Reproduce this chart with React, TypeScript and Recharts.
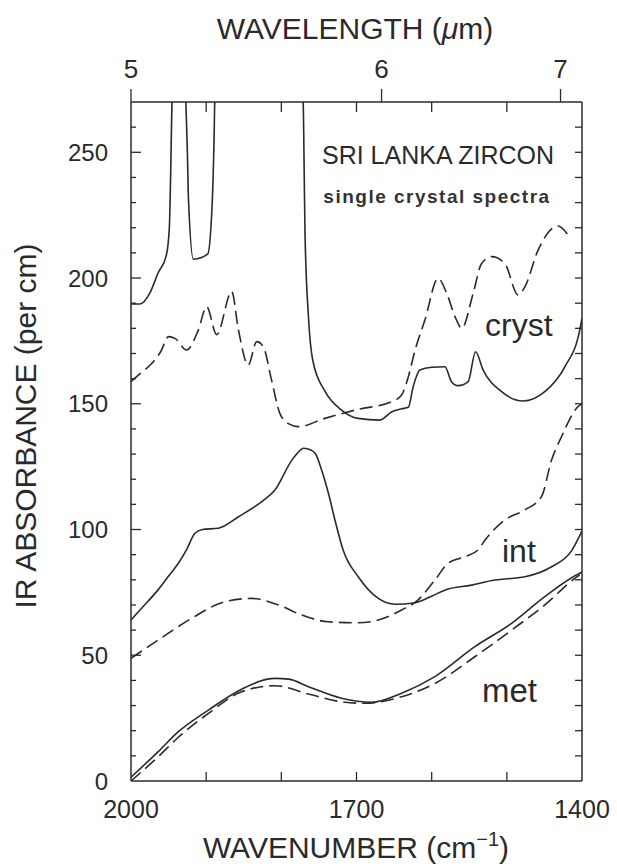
import React from 'react';
import { LineChart, Line, XAxis, YAxis } from 'recharts';

// wavenumber (cm-1), absorbance (per cm)
const crystSolid: number[][] = [
  [2000, 189.7], [1988, 189.7], [1975, 194], [1964, 202], [1953, 209], [1949, 220],
  [1947, 245], [1945.5, 270], [1936, 320], [1927, 270], [1925, 250], [1923.5, 231],
  [1917, 207.5], [1898, 209.5], [1892, 229.7], [1889.5, 255], [1888.5, 270], [1830, 330],
  [1771, 270], [1769.5, 240], [1768.5, 218], [1764, 185], [1758, 167], [1742, 155],
  [1720, 147.5], [1698, 144.2], [1669, 143.5], [1653, 146.8], [1640, 148], [1631, 148.6],
  [1624.6, 156.8], [1615.7, 163.4], [1600, 164.5], [1582.4, 164.7], [1573.6, 158.8],
  [1564.8, 157.2], [1551.4, 158.8], [1541.6, 170.7], [1531.5, 163.4], [1507, 154.8],
  [1478.3, 151.1], [1449.5, 154.8], [1422.9, 164.7], [1403, 179.3], [1400, 184],
];
const crystDashed: number[][] = [
  [2000, 158.8], [1988, 162], [1972.5, 166], [1960, 171], [1950, 176.7], [1941.5, 176],
  [1926, 171.4], [1910.5, 179.3], [1899.4, 188.6], [1886, 177.5], [1866, 194.6],
  [1857, 179.3], [1844, 165.4], [1832.8, 174.7], [1824, 172.7], [1813, 159.4],
  [1802, 146.2], [1790, 142], [1777.5, 140.9], [1742, 144.2], [1697.7, 147.8],
  [1653.3, 150.8], [1640, 153.5], [1631, 160.8], [1622, 171.4], [1609, 183.3],
  [1591.4, 199.9], [1580, 193.9], [1568, 184], [1560, 180], [1544.8, 193.9],
  [1533.6, 205.8], [1520, 208.5], [1502.7, 205.8], [1484.9, 193.2], [1476, 196.5],
  [1458.4, 211.1], [1431.8, 220.7], [1418.5, 217.1],
];
const intSolid: number[][] = [
  [2000, 64], [1985, 69], [1964, 76], [1950, 81.5], [1937, 86.6], [1926, 92], [1915, 98.5],
  [1905, 100], [1884, 100.5], [1857, 105.1], [1826, 111.1], [1808.5, 115.7], [1786, 127.6],
  [1775, 131.5], [1770.8, 132.3], [1760, 131.5], [1755, 130.3], [1746.4, 123.7], [1737, 114],
  [1728.7, 103.8], [1717.7, 91.8], [1697.7, 81.2], [1671, 72.6], [1649, 70.3], [1622, 70.9],
  [1600, 73.5], [1582.4, 75.9], [1547, 77.9], [1516, 79.9], [1476, 81.2], [1440.5, 85.2],
  [1414, 91.5], [1400, 99.5],
];
const intDashed: number[][] = [
  [2000, 48.8], [1963.7, 56.1], [1919.3, 64.7], [1875, 71.3], [1839.5, 72.6], [1804, 70],
  [1773, 66], [1737.6, 63.3], [1697.7, 62.9], [1671, 64], [1640, 68], [1618, 72],
  [1595.7, 79.9], [1578, 86.6], [1555.8, 89.2], [1538, 92], [1529, 95.8], [1502.7, 103.8],
  [1476, 107.8], [1454, 113], [1440.5, 127.6], [1427.3, 136.9], [1403, 149.5], [1400, 150],
];
const metSolid: number[][] = [
  [2000, 1.5], [1963.7, 11.7], [1937, 19.6], [1897, 28.2], [1852.8, 36.5], [1808.5, 40.8],
  [1790, 40.5], [1764, 37.5], [1720, 32.9], [1680, 31.3], [1640, 34.9], [1595.7, 41.5],
  [1542.6, 53.4], [1493.7, 62.7], [1449.5, 73.3], [1403, 82.6], [1400, 83],
];
const metDashed: number[][] = [
  [2000, 0], [1963.7, 9.7], [1937, 17.4], [1897, 26.9], [1852.8, 35.5], [1808.5, 37.9],
  [1764, 34.6], [1720, 31.5], [1689, 30.9], [1640, 33.5], [1595.7, 38.8], [1542.6, 49.4],
  [1493.7, 60], [1449.5, 70], [1409.6, 80.6], [1403, 82],
];

const bottomTicks = [2000, 1900, 1800, 1700, 1600, 1500, 1400];
const bottomLabels = [2000, 1700, 1400];
const topMicrons = [5, 6, 7];
const topMinor = [1900, 1800, 1700, 1600, 1500];
const leftTicks = [0, 10, 20, 30, 40, 50, 60, 70, 80, 90, 100, 110, 120, 130, 140, 150, 160, 170, 180, 190, 200, 210, 220, 230, 240, 250, 260];
const leftLabels = [0, 50, 100, 150, 200, 250];

const toPts = (a: number[][]) => a.map(([w, v]) => ({ w, v }));
const topTicks = [...topMicrons.map((m) => 10000 / m), ...topMinor].sort((a, b) => b - a);

const ink = '#2a2a2a';
const font = '"Liberation Sans", Arial, Helvetica, sans-serif';

const LeftTick = (p: any) => {
  const { x, y, payload } = p;
  const v = payload.value as number;
  const major = v % 50 === 0;
  return (
    <g>
      {v > 0 && <line x1={x} y1={y} x2={x + (major ? 10 : 5)} y2={y} stroke={ink} strokeWidth={1.3} />}
      {leftLabels.includes(v) && (
        <text x={x - 23} y={y} dy="0.36em" textAnchor="end" fontSize={24} fill={ink} fontFamily={font}>
          {v}
        </text>
      )}
    </g>
  );
};
const RightTick = (p: any) => {
  const { x, y, payload } = p;
  const v = payload.value as number;
  if (v <= 0) return <g />;
  return <line x1={x} y1={y} x2={x - 7} y2={y} stroke={ink} strokeWidth={1.3} />;
};
const BottomTick = (p: any) => {
  const { x, y, payload } = p;
  const v = payload.value as number;
  return (
    <g>
      {v !== 2000 && v !== 1400 && <line x1={x} y1={y} x2={x} y2={y - 9} stroke={ink} strokeWidth={1.3} />}
      {bottomLabels.includes(v) && (
        <text x={x} y={y + 37} textAnchor="middle" fontSize={25} fill={ink} fontFamily={font}>
          {v}
        </text>
      )}
    </g>
  );
};
const TopTick = (p: any) => {
  const { x, y, payload } = p;
  const v = payload.value as number;
  const um = 10000 / v;
  const major = Math.abs(um - Math.round(um)) < 1e-6;
  if (major) {
    return (
      <g>
        <line x1={x} y1={y} x2={x} y2={y - 13} stroke={ink} strokeWidth={1.3} />
        <text x={x} y={y - 24} textAnchor="middle" fontSize={26} fill={ink} fontFamily={font}>
          {Math.round(um)}
        </text>
      </g>
    );
  }
  return <line x1={x} y1={y} x2={x} y2={y + 10} stroke={ink} strokeWidth={1.3} />;
};

const axisLine = { stroke: ink, strokeWidth: 1.5 };

export default function App() {
  const lineProps = {
    type: 'monotone' as const,
    dataKey: 'v',
    stroke: ink,
    strokeWidth: 1.6,
    dot: false,
    activeDot: false,
    isAnimationActive: false,
  };
  return (
    <div style={{ position: 'absolute', left: 0, top: 0, width: 617, height: 866, background: '#fff' }}>
      <LineChart width={617} height={866} margin={{ top: 72, right: 25, bottom: 55, left: 71 }}>
        <XAxis
          xAxisId="b"
          type="number"
          dataKey="w"
          domain={[1400, 2000]}
          reversed
          allowDataOverflow
          ticks={bottomTicks}
          interval={0}
          tickSize={0}
          tickMargin={0}
          tickLine={false}
          axisLine={axisLine}
          tick={BottomTick}
          height={30}
        />
        <XAxis
          xAxisId="t"
          orientation="top"
          type="number"
          dataKey="w"
          domain={[1400, 2000]}
          reversed
          allowDataOverflow
          ticks={topTicks}
          interval={0}
          tickSize={0}
          tickMargin={0}
          tickLine={false}
          axisLine={axisLine}
          tick={TopTick}
          height={30}
        />
        <YAxis
          yAxisId="l"
          type="number"
          domain={[0, 270]}
          allowDataOverflow
          ticks={leftTicks}
          interval={0}
          tickSize={0}
          tickMargin={0}
          tickLine={false}
          axisLine={axisLine}
          tick={LeftTick}
          width={60}
        />
        <YAxis
          yAxisId="r"
          orientation="right"
          type="number"
          domain={[0, 270]}
          allowDataOverflow
          ticks={leftTicks}
          interval={0}
          tickSize={0}
          tickMargin={0}
          tickLine={false}
          axisLine={axisLine}
          tick={RightTick}
          width={10}
        />
        <Line {...lineProps} xAxisId="b" yAxisId="l" data={toPts(crystSolid)} />
        <Line {...lineProps} xAxisId="t" yAxisId="r" data={toPts(crystDashed)} strokeDasharray="13 6" />
        <Line {...lineProps} xAxisId="b" yAxisId="l" data={toPts(intSolid)} />
        <Line {...lineProps} xAxisId="b" yAxisId="l" data={toPts(intDashed)} strokeDasharray="13 6" />
        <Line {...lineProps} xAxisId="b" yAxisId="l" data={toPts(metSolid)} />
        <Line {...lineProps} xAxisId="b" yAxisId="l" data={toPts(metDashed)} strokeDasharray="13 6" />

        <text x={438} y={164} textAnchor="middle" fontSize={25} fill={ink} fontFamily={font}>SRI LANKA ZIRCON</text>
        <text x={437} y={203} textAnchor="middle" fontSize={19} fontWeight={700} letterSpacing={1.5} fill="#333" fontFamily={font}>single crystal spectra</text>
        <text x={485} y={336} fontSize={32} fill={ink} fontFamily={font}>cryst</text>
        <text x={502} y={562} fontSize={32} fill={ink} fontFamily={font}>int</text>
        <text x={482} y={702} fontSize={33} fill={ink} fontFamily={font}>met</text>
        <text x={355} y={39} textAnchor="middle" fontSize={30} fill={ink} fontFamily={font}>
          WAVELENGTH (<tspan fontStyle="italic">μ</tspan>m)
        </text>
        <text x={356} y={858} textAnchor="middle" fontSize={30} fill={ink} fontFamily={font}>
          WAVENUMBER (cm<tspan dy={-12} fontSize={20}>−1</tspan><tspan dy={12}>)</tspan>
        </text>
        <text x={36} y={426} textAnchor="middle" fontSize={30} fill={ink} fontFamily={font} transform="rotate(-90 36 426)">
          IR ABSORBANCE (per cm)
        </text>
      </LineChart>
    </div>
  );
}
